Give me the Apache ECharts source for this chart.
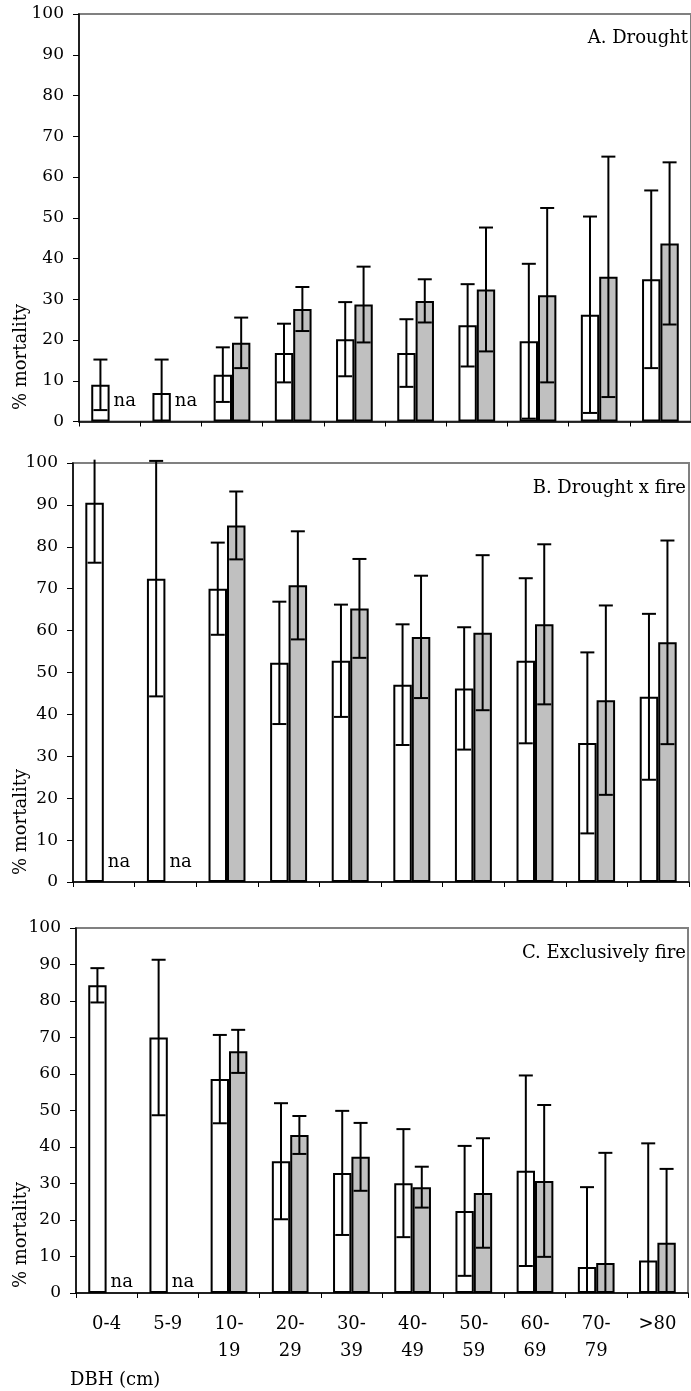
<!DOCTYPE html>
<html>
<head>
<meta charset="utf-8">
<script src="https://cdn.jsdelivr.net/npm/echarts@6/dist/echarts.min.js"></script>
<style>
  html, body { margin: 0; padding: 0; background: #fff; }
  #chart { width: 691px; height: 1391px; }
</style>
</head>
<body>
<div id="chart"></div>
<script>
// ---------------- DATA ----------------
const categories = ['0-4', '5-9', '10-\n19', '20-\n29', '30-\n39', '40-\n49', '50-\n59', '60-\n69', '70-\n79', '>80'];

// A. Drought
const aWhite    = [9.0, 7.0, 11.5, 16.8, 20.2, 16.8, 23.6, 19.7, 26.2, 34.9];
const aWhiteErr = [6.2, 8.2, 6.7, 7.2, 9.1, 8.3, 10.1, 19.0, 24.1, 21.8];
const aGray     = [null, null, 19.3, 27.6, 28.7, 29.6, 32.4, 31.0, 35.5, 43.7];
const aGrayErr  = [null, null, 6.2, 5.4, 9.3, 5.3, 15.2, 21.4, 29.5, 19.9];

// B. Drought x fire
const bWhite    = [90.5, 72.4, 70.0, 52.3, 52.8, 47.1, 46.2, 52.8, 33.2, 44.2];
const bWhiteErr = [14.3, 28.1, 11.0, 14.6, 13.4, 14.4, 14.6, 19.7, 21.6, 19.8];
const bGray     = [null, null, 85.1, 70.8, 65.3, 58.5, 59.5, 61.5, 43.4, 57.2];
const bGrayErr  = [null, null, 8.1, 12.9, 11.8, 14.6, 18.5, 19.1, 22.6, 24.3];

// C. Exclusively fire
const cWhite    = [84.3, 70.0, 58.6, 36.1, 32.9, 30.1, 22.5, 33.5, 7.1, 8.9];
const cWhiteErr = [4.7, 21.3, 12.1, 15.9, 17.0, 14.8, 17.8, 26.1, 21.9, 32.1];
const cGray     = [null, null, 66.2, 43.3, 37.3, 29.0, 27.4, 30.7, 8.2, 13.8];
const cGrayErr  = [null, null, 5.9, 5.2, 9.3, 5.6, 15.0, 20.8, 30.2, 20.2];

const panelTitles = ['A. Drought', 'B. Drought x fire', 'C. Exclusively fire'];
const yAxisName = '% mortality';
const xAxisName = 'DBH (cm)';
const naText = 'na';

// ---------------- LAYOUT ----------------
const FONT = 'DejaVu Serif';
const grids = [
  { left: 79, top: 14, width: 612, height: 407.5 },
  { left: 73, top: 463, width: 616, height: 419 },
  { left: 76, top: 928, width: 612, height: 365 }
];
const naOffsets = [20, 20, 11];
const titlePos = [{ x: 688, y: 38 }, { x: 686, y: 488 }, { x: 686, y: 953 }];
const yNamePos = [{ x: 21, y: 357 }, { x: 21, y: 822 }, { x: 21, y: 1235 }];
const CAT_GAP = 0.4;
const CLIP_MAX = 100.8;

const panels = [
  { w: aWhite, we: aWhiteErr, g: aGray, ge: aGrayErr },
  { w: bWhite, we: bWhiteErr, g: bGray, ge: bGrayErr },
  { w: cWhite, we: cWhiteErr, g: cGray, ge: cGrayErr }
];

function errRender(sign) {
  return function (params, api) {
    const ci = api.value(0), v = api.value(1), e = api.value(2);
    if (v == null || isNaN(v) || isNaN(e)) return;
    const band = api.size([1, 0])[0];
    const bw = band * (1 - CAT_GAP) / 2;
    const cx = api.coord([ci, 0])[0] + sign * bw / 2;
    const hiRaw = v + e, loRaw = v - e;
    const hi = Math.min(hiRaw, CLIP_MAX), lo = Math.max(0, loRaw);
    const yHi = api.coord([ci, hi])[1];
    const yLo = api.coord([ci, lo])[1];
    const capW = 7;
    const st = { stroke: '#000', lineWidth: 2 };
    const children = [
      { type: 'line', shape: { x1: cx, y1: yHi, x2: cx, y2: yLo }, style: st }
    ];
    if (hiRaw <= CLIP_MAX) children.push({ type: 'line', shape: { x1: cx - capW, y1: yHi, x2: cx + capW, y2: yHi }, style: st });
    if (loRaw > 0) children.push({ type: 'line', shape: { x1: cx - capW, y1: yLo, x2: cx + capW, y2: yLo }, style: st });
    return { type: 'group', children: children };
  };
}

function naRender(offY) {
  return function (params, api) {
    const ci = api.value(0);
    const p = api.coord([ci, 0]);
    return {
      type: 'text',
      x: p[0] + 4, y: p[1] - offY,
      style: { text: naText, fontFamily: FONT, fontSize: 18, fill: '#000', align: 'left', verticalAlign: 'middle' }
    };
  };
}

const option = {
  animation: false,
  backgroundColor: '#fff',
  grid: grids.map(g => Object.assign({ show: true, borderColor: '#808080', borderWidth: 2, backgroundColor: 'transparent', containLabel: false }, g)),
  xAxis: grids.map((g, i) => ({
    type: 'category',
    gridIndex: i,
    data: categories,
    boundaryGap: true,
    axisLine: { show: true, onZero: false, lineStyle: { color: '#000', width: 1.5 } },
    axisTick: { show: true, alignWithLabel: false, length: 5, inside: false, lineStyle: { color: '#000', width: 1 } },
    axisLabel: {
      show: i === 2, interval: 0, margin: 18,
      fontFamily: FONT, fontSize: 18, color: '#000', lineHeight: 27
    },
    splitLine: { show: false }
  })),
  yAxis: grids.map((g, i) => ({
    type: 'value',
    gridIndex: i,
    min: 0, max: 100, interval: 10,
    axisLine: { show: true, lineStyle: { color: '#000', width: 1.5 } },
    axisTick: { show: true, length: 6, inside: false, lineStyle: { color: '#000', width: 1 } },
    axisLabel: { fontFamily: FONT, fontSize: 17, color: '#000', margin: 15 },
    splitLine: { show: false }
  })),
  series: [],
  graphic: []
};

panels.forEach((p, i) => {
  option.series.push({
    type: 'bar', name: 'white', xAxisIndex: i, yAxisIndex: i,
    data: p.w, barGap: '0%', barCategoryGap: (CAT_GAP * 100) + '%',
    itemStyle: { color: '#ffffff', borderColor: '#000', borderWidth: 2 },
    z: 2
  });
  option.series.push({
    type: 'bar', name: 'gray', xAxisIndex: i, yAxisIndex: i,
    data: p.g, barGap: '0%', barCategoryGap: (CAT_GAP * 100) + '%',
    itemStyle: { color: '#c0c0c0', borderColor: '#000', borderWidth: 2 },
    z: 2
  });
  option.series.push({
    type: 'custom', xAxisIndex: i, yAxisIndex: i, clip: false, z: 5,
    renderItem: errRender(-1),
    encode: { x: 0, y: 1 },
    data: p.w.map((v, k) => [k, v, p.we[k]])
  });
  option.series.push({
    type: 'custom', xAxisIndex: i, yAxisIndex: i, clip: false, z: 5,
    renderItem: errRender(1),
    encode: { x: 0, y: 1 },
    data: p.g.map((v, k) => (v == null ? [k, NaN, NaN] : [k, v, p.ge[k]]))
  });
  option.series.push({
    type: 'custom', xAxisIndex: i, yAxisIndex: i, clip: false, z: 5,
    renderItem: naRender(naOffsets[i]),
    encode: { x: 0, y: 1 },
    data: p.g.map((v, k) => (v == null ? [k, 0] : null)).filter(d => d)
  });

  option.graphic.push({
    type: 'text', x: titlePos[i].x, y: titlePos[i].y,
    style: { text: panelTitles[i], fontFamily: FONT, fontSize: 18, fill: '#000', align: 'right', verticalAlign: 'middle' },
    z: 10
  });
  option.graphic.push({
    type: 'text', x: yNamePos[i].x, y: yNamePos[i].y, rotation: Math.PI / 2,
    style: { text: yAxisName, fontFamily: FONT, fontSize: 18, fill: '#000', align: 'center', verticalAlign: 'middle' },
    z: 10
  });
});

option.graphic.push({
  type: 'text', x: 70, y: 1380,
  style: { text: xAxisName, fontFamily: FONT, fontSize: 18, fill: '#000', align: 'left', verticalAlign: 'middle' },
  z: 10
});

const chart = echarts.init(document.getElementById('chart'), null, { renderer: 'canvas' });
chart.setOption(option);
</script>
</body>
</html>
